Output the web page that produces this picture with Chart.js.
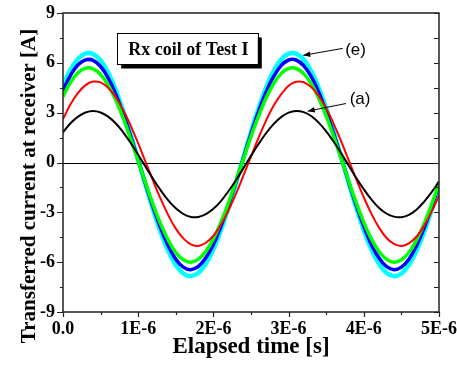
<!DOCTYPE html>
<html><head><meta charset="utf-8">
<script src="https://cdn.jsdelivr.net/npm/chart.js@4/dist/chart.umd.min.js"></script>
<style>html,body{margin:0;padding:0;background:#fff}canvas{display:block}</style>
</head><body>
<canvas id="c" width="457" height="365"></canvas>
<script>
// Elapsed time (microseconds)
const timeUs = [0.0,0.1,0.2,0.3,0.4,0.5,0.6,0.7,0.8,0.9,
  1.0,1.1,1.2,1.3,1.4,1.5,1.6,1.7,1.8,1.9,
  2.0,2.1,2.2,2.3,2.4,2.5,2.6,2.7,2.8,2.9,
  3.0,3.1,3.2,3.3,3.4,3.5,3.6,3.7,3.8,3.9,
  4.0,4.1,4.2,4.3,4.4,4.5,4.6,4.7,4.8,4.9,5.0];

// Transferred current [A], curve (a) .. (e)
const currentA = [1.82,2.36,2.76,3.01,3.10,3.01,2.76,2.36,1.82,1.18,
  0.47,-0.27,-1.00,-1.68,-2.28,-2.76,-3.10,-3.28,-3.28,-3.11,
  -2.79,-2.32,-1.73,-1.07,-0.34,0.40,1.11,1.76,2.31,2.73,
  3.00,3.10,3.03,2.80,2.40,1.88,1.25,0.55,-0.19,-0.93,
  -1.61,-2.22,-2.72,-3.07,-3.26,-3.29,-3.15,-2.84,-2.37,-1.80,-1.14];
const currentB = [2.62,3.50,4.19,4.66,4.87,4.82,4.50,3.94,3.17,2.22,
  1.15,0.01,-1.12,-2.21,-3.17,-3.98,-4.57,-4.93,-5.02,-4.83,
  -4.41,-3.75,-2.89,-1.89,-0.78,0.36,1.48,2.52,3.41,4.10,
  4.62,4.86,4.83,4.54,4.01,3.26,2.33,1.26,0.13,-1.01,
  -2.10,-3.08,-3.90,-4.53,-4.90,-5.02,-4.87,-4.47,-3.83,-2.99,-1.99];
const currentC = [3.97,4.82,5.40,5.68,5.64,5.30,4.67,3.78,2.68,1.42,
  0.09,-1.26,-2.55,-3.71,-4.68,-5.42,-5.86,-6.00,-5.82,-5.34,
  -4.60,-3.60,-2.43,-1.13,0.22,1.56,2.79,3.87,4.74,5.35,
  5.66,5.66,5.35,4.75,3.87,2.80,1.56,0.22,-1.13,-2.43,
  -3.60,-4.60,-5.34,-5.82,-6.00,-5.86,-5.42,-4.68,-3.71,-2.55,-1.27];
const currentD = [4.34,5.25,5.88,6.18,6.15,5.78,5.10,4.13,2.94,1.58,
  0.14,-1.32,-2.72,-3.97,-5.02,-5.82,-6.30,-6.45,-6.26,-5.74,
  -4.93,-3.85,-2.58,-1.18,0.29,1.73,3.06,4.23,5.17,5.83,
  6.17,6.17,5.83,5.18,4.24,3.07,1.73,0.29,-1.18,-2.58,
  -3.85,-4.93,-5.74,-6.26,-6.45,-6.30,-5.82,-5.02,-3.97,-2.72,-1.33];
const currentE = [4.62,5.59,6.25,6.57,6.53,6.14,5.42,4.39,3.13,1.69,
  0.16,-1.40,-2.88,-4.21,-5.32,-6.17,-6.68,-6.84,-6.64,-6.09,
  -5.23,-4.08,-2.73,-1.25,0.31,1.84,3.26,4.50,5.50,6.20,
  6.55,6.55,6.20,5.50,4.50,3.27,1.84,0.31,-1.24,-2.73,
  -4.08,-5.23,-6.09,-6.64,-6.84,-6.68,-6.17,-5.32,-4.21,-2.88,-1.40];

const xTickValues = [0, 1e-6, 2e-6, 3e-6, 4e-6, 5e-6];
const xTickLabels = ['0.0', '1E-6', '2E-6', '3E-6', '4E-6', '5E-6'];
const xMinorTicks = [0.5e-6, 1.5e-6, 2.5e-6, 3.5e-6, 4.5e-6];
const yTickValues = [-9, -6, -3, 0, 3, 6, 9];
const yTickLabels = ['-9', '-6', '-3', '0', '3', '6', '9'];
const yMinorTicks = [-7.5, -4.5, -1.5, 1.5, 4.5, 7.5];

const xTitle = 'Elapsed time [s]';
const yTitle = 'Transferred current at receiver [A]';
const boxText = 'Rx coil of Test I';
const labelE = '(e)';
const labelA = '(a)';

const SERIF = '"Liberation Serif","Times New Roman",serif';
const SANS = '"Liberation Sans",Arial,sans-serif';

function pts(arr) { return arr.map((v, i) => ({ x: timeUs[i] * 1e-6, y: v })); }

const series = [
  { data: currentA, color: '#000000', width: 2 },
  { data: currentB, color: '#ff0000', width: 2 },
  { data: currentC, color: '#00ff00', width: 3.5 },
  { data: currentD, color: '#0000ff', width: 3.5 },
  { data: currentE, color: '#00ffff', width: 4.5 }
];

function arrow(ctx, x1, y1, x2, y2) {
  ctx.beginPath(); ctx.moveTo(x1, y1); ctx.lineTo(x2, y2); ctx.stroke();
  const ang = Math.atan2(y2 - y1, x2 - x1);
  const L = 7, W = 2.8;
  ctx.beginPath();
  ctx.moveTo(x2, y2);
  ctx.lineTo(x2 - L * Math.cos(ang) + W * Math.sin(ang), y2 - L * Math.sin(ang) - W * Math.cos(ang));
  ctx.lineTo(x2 - L * Math.cos(ang) - W * Math.sin(ang), y2 - L * Math.sin(ang) + W * Math.cos(ang));
  ctx.closePath(); ctx.fill();
}

const decor = {
  id: 'decor',
  beforeDraw(chart) {
    const ctx = chart.ctx;
    ctx.save(); ctx.fillStyle = '#fff'; ctx.fillRect(0, 0, chart.width, chart.height); ctx.restore();
  },
  beforeDatasetsDraw(chart) {
    const { ctx, chartArea: a, scales: { y } } = chart;
    const y0 = Math.round(y.getPixelForValue(0)) + 0.5;
    ctx.save(); ctx.strokeStyle = '#000'; ctx.lineWidth = 1;
    ctx.beginPath(); ctx.moveTo(a.left, y0); ctx.lineTo(a.right, y0); ctx.stroke();
    ctx.restore();
  },
  afterDatasetsDraw(chart) {
    const { ctx, chartArea: a, scales: { x, y } } = chart;
    ctx.save();
    // frame
    ctx.strokeStyle = '#222'; ctx.lineWidth = 1.5;
    ctx.strokeRect(a.left, a.top, a.right - a.left, a.bottom - a.top);
    ctx.lineWidth = 1.2;
    ctx.beginPath();
    yTickValues.forEach(v => {
      const py = Math.round(y.getPixelForValue(v)) + 0.5;
      ctx.moveTo(a.left - 6, py); ctx.lineTo(a.left, py);
      ctx.moveTo(a.right - 5, py); ctx.lineTo(a.right, py);
    });
    yMinorTicks.forEach(v => {
      const py = Math.round(y.getPixelForValue(v)) + 0.5;
      ctx.moveTo(a.left - 3, py); ctx.lineTo(a.left, py);
      ctx.moveTo(a.right - 5, py); ctx.lineTo(a.right, py);
    });
    xTickValues.forEach(v => {
      const px = Math.round(x.getPixelForValue(v)) + 0.5;
      ctx.moveTo(px, a.bottom); ctx.lineTo(px, a.bottom + 5);
    });
    xMinorTicks.forEach(v => {
      const px = Math.round(x.getPixelForValue(v)) + 0.5;
      ctx.moveTo(px, a.bottom); ctx.lineTo(px, a.bottom + 3);
    });
    ctx.stroke();

    // title box with shadow
    const bx1 = x.getPixelForValue(0.72e-6), bx2 = x.getPixelForValue(2.59e-6);
    const by1 = y.getPixelForValue(7.77), by2 = y.getPixelForValue(5.9);
    ctx.fillStyle = '#000';
    ctx.fillRect(bx1 + 4, by1 + 4, bx2 - bx1, by2 - by1);
    ctx.fillStyle = '#fff';
    ctx.fillRect(bx1, by1, bx2 - bx1, by2 - by1);
    ctx.strokeStyle = '#000'; ctx.lineWidth = 1;
    ctx.strokeRect(Math.round(bx1) + 0.5, Math.round(by1) + 0.5, Math.round(bx2 - bx1), Math.round(by2 - by1));
    ctx.fillStyle = '#000';
    ctx.font = 'bold 18px ' + SERIF;
    ctx.textAlign = 'center'; ctx.textBaseline = 'middle';
    ctx.fillText(boxText, (bx1 + bx2) / 2 + 1, (by1 + by2) / 2 + 1);

    // labels with arrows
    ctx.font = '17px ' + SANS;
    ctx.fillText(labelE, x.getPixelForValue(3.89e-6), y.getPixelForValue(6.77));
    ctx.fillText(labelA, x.getPixelForValue(3.95e-6), y.getPixelForValue(3.8));
    ctx.lineWidth = 1; ctx.strokeStyle = '#000';
    arrow(ctx, x.getPixelForValue(3.72e-6), y.getPixelForValue(6.87), x.getPixelForValue(3.195e-6), y.getPixelForValue(6.45));
    arrow(ctx, x.getPixelForValue(3.763e-6), y.getPixelForValue(3.55), x.getPixelForValue(3.254e-6), y.getPixelForValue(3.09));

    // y axis title (rotated), centred slightly below the plot centre like the original
    ctx.translate(30, 186);
    ctx.rotate(-Math.PI / 2);
    ctx.font = 'bold 21px ' + SERIF;
    ctx.fillText(yTitle, 0, 0);
    ctx.restore();
  }
};

new Chart(document.getElementById('c'), {
  type: 'line',
  data: {
    datasets: series.map(s => ({
      data: pts(s.data),
      borderColor: s.color,
      backgroundColor: s.color,
      borderWidth: s.width,
      pointRadius: 0,
      tension: 0.4,
      fill: false
    }))
  },
  options: {
    responsive: false,
    animation: false,
    devicePixelRatio: 1,
    layout: { padding: { top: 13, right: 18, left: 0, bottom: 0 } },
    plugins: { legend: { display: false }, tooltip: { enabled: false } },
    scales: {
      x: {
        type: 'linear', min: 0, max: 5e-6,
        afterBuildTicks: s => { s.ticks = xTickValues.map(v => ({ value: v })); },
        afterFit: s => { s.height = 53; s.paddingLeft = 0; s.paddingRight = 0; },
        ticks: {
          callback: (v, i) => xTickLabels[i],
          font: { family: SERIF, size: 18, weight: 'bold' }, color: '#000',
          padding: 7, maxRotation: 0, autoSkip: false
        },
        grid: { display: false, drawTicks: false },
        border: { display: false },
        title: { display: true, text: xTitle, color: '#000',
          font: { family: SERIF, size: 23, weight: 'bold' }, padding: { top: 0, bottom: 4 } }
      },
      y: {
        type: 'linear', min: -9, max: 9,
        afterBuildTicks: s => { s.ticks = yTickValues.map(v => ({ value: v })); },
        afterFit: s => { s.width = 63; s.paddingTop = 0; s.paddingBottom = 0; },
        ticks: {
          callback: (v, i) => yTickLabels[i],
          font: { family: SERIF, size: 18, weight: 'bold' }, color: '#000',
          padding: 8, autoSkip: false
        },
        grid: { display: false, drawTicks: false },
        border: { display: false },
        title: { display: false }
      }
    }
  },
  plugins: [decor]
});
</script>
</body></html>
